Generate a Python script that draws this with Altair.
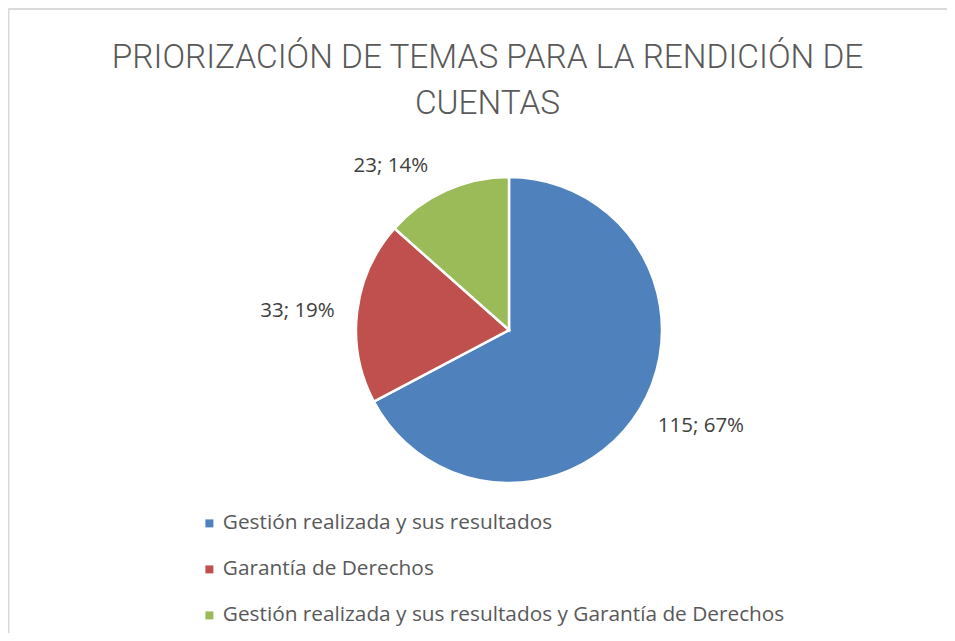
import altair as alt
import pandas as pd

categories = [
    "Gestión realizada y sus resultados",
    "Garantía de Derechos",
    "Gestión realizada y sus resultados y Garantía de Derechos",
]
values = [115, 33, 23]
percent_labels = ["67%", "19%", "14%"]
colors = ["#4F81BD", "#C0504D", "#9BBB59"]
title_lines = ["PRIORIZACIÓN DE TEMAS PARA LA RENDICIÓN DE", "CUENTAS"]

df = pd.DataFrame({
    "idx": list(range(len(categories))),
    "category": categories,
    "value": values,
    "pct": percent_labels,
})
df["label"] = df["value"].astype(str) + "; " + df["pct"]
total = sum(values)

W, H = 939, 625
CX, CY = 501, 322
R = 153
FONT = "Open Sans"

theta_scale = alt.Scale(domain=[0, total])

base = alt.Chart(df)

pie = base.mark_arc(outerRadius=R, stroke="white", strokeWidth=2.5).encode(
    theta=alt.Theta("value:Q", stack=True, scale=theta_scale),
    color=alt.Color(
        "category:N",
        scale=alt.Scale(domain=categories, range=colors),
        sort=categories,
        legend=alt.Legend(
            title=None,
            orient="none",
            legendX=191,
            legendY=505,
            direction="vertical",
            symbolType="square",
            symbolSize=64,
            symbolStrokeWidth=0,
            labelFont=FONT,
            labelFontSize=20.8,
            labelColor="#595959",
            labelOffset=3,
            rowPadding=24,
            padding=0,
            labelLimit=800,
        ),
    ),
    order=alt.Order("idx:Q"),
    x=alt.value(CX),
    y=alt.value(CY),
)

offsets = [(12, -12), (-3, 6), (-32, 28)]
label_layers = []
for i, (ddx, ddy) in enumerate(offsets):
    lay = base.transform_window(
        cum="sum(value)", sort=[alt.SortField("idx")]
    ).transform_calculate(
        mid="datum.cum - datum.value / 2"
    ).transform_filter(
        alt.datum.idx == i
    ).mark_text(
        radius=210, dx=ddx, dy=ddy, font=FONT, fontSize=20.5, color="#404040",
        align="center", baseline="middle",
    ).encode(
        theta=alt.Theta("mid:Q", stack=None, scale=theta_scale),
        text="label:N",
        x=alt.value(CX),
        y=alt.value(CY),
    )
    label_layers.append(lay)

title_df = pd.DataFrame({"t": ["\n".join(title_lines)]})
title = alt.Chart(title_df).mark_text(
    font="Roboto",
    fontSize=33.4,
    fontWeight=300,
    color="#595959",
    align="center",
    baseline="alphabetic",
    lineBreak="\n",
    lineHeight=46,
).encode(
    text="t:N",
    x=alt.value(479.5),
    y=alt.value(60),
)

frame = alt.Chart(pd.DataFrame({"a": [0]})).mark_rect(
    fill=None, stroke="#d9d9d9", strokeWidth=1.5
).encode(
    x=alt.value(0.75), x2=alt.value(W + 20),
    y=alt.value(1.25), y2=alt.value(H + 20),
)

chart = alt.layer(frame, title, pie, *label_layers).properties(
    width=W,
    height=H,
    autosize=alt.AutoSizeParams(type="none"),
    padding=0,
).configure_view(stroke=None).configure(background="white")

chart.save("out.html", embed_options={"renderer": "svg", "actions": False})
